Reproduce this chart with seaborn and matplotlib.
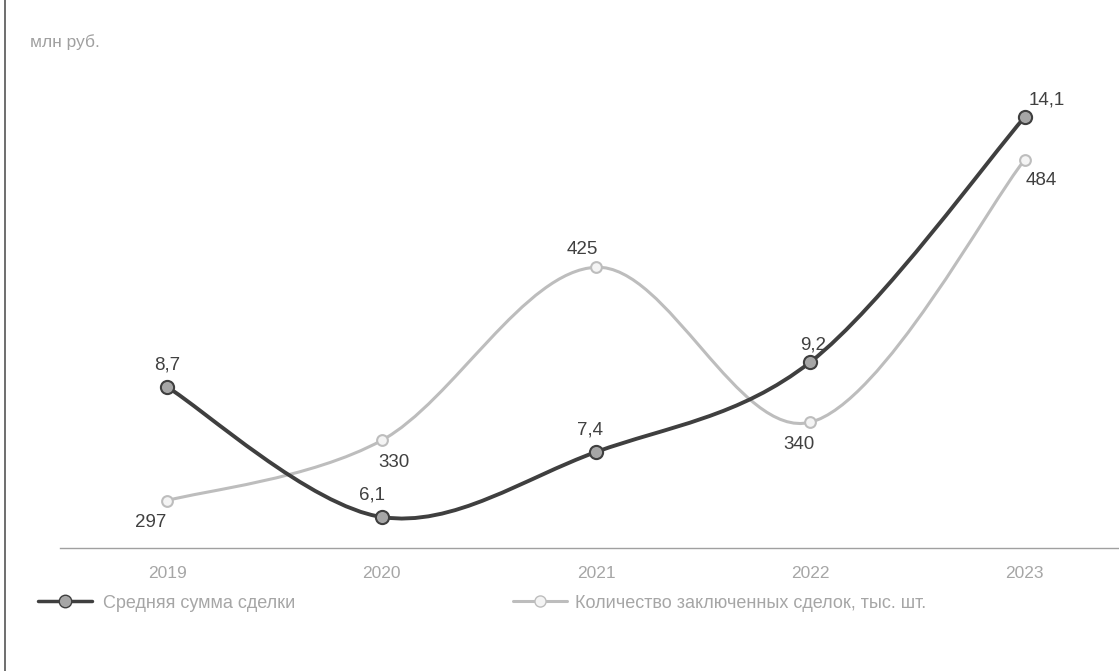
import numpy as np
import pandas as pd
import matplotlib
matplotlib.use("Agg")
import matplotlib.pyplot as plt
from matplotlib.path import Path
from matplotlib.patches import PathPatch
from matplotlib.lines import Line2D
import seaborn as sns

years = ["2019", "2020", "2021", "2022", "2023"]
avg_sum = [8.7, 6.1, 7.4, 9.2, 14.1]
deals = [297, 330, 425, 340, 484]
avg_labels = ["8,7", "6,1", "7,4", "9,2", "14,1"]
deal_labels = ["297", "330", "425", "340", "484"]
series_names = ["Средняя сумма сделки", "Количество заключенных сделок, тыс. шт."]
unit_label = "млн руб."

sns.set_theme(style="white")
plt.rcParams['font.family'] = ['Liberation Sans', 'DejaVu Sans']

W, H = 1119, 671
fig = plt.figure(figsize=(W / 100, H / 100), dpi=100)
fig.patch.set_facecolor("white")

left = 60 / W
right = 1132 / W
bottom = 1 - 548 / H
top = 1 - 60 / H
ax = fig.add_axes([left, bottom, right - left, top - bottom])
ax2 = ax.twinx()

x = np.arange(len(years))
df = pd.DataFrame({"x": x, "avg": avg_sum, "deals": deals})

dark = "#3f3f3f"
light = "#bdbdbd"


def smooth_path(xs, ys):
    pts = np.column_stack([xs, ys]).astype(float)
    n = len(pts)
    verts = [pts[0]]
    codes = [Path.MOVETO]
    for i in range(n - 1):
        p0 = pts[i - 1] if i > 0 else pts[i]
        p1 = pts[i]
        p2 = pts[i + 1]
        p3 = pts[i + 2] if i + 2 < n else pts[i + 1]
        c1 = p1 + (p2 - p0) / 6.0
        c2 = p2 - (p3 - p1) / 6.0
        verts += [c1, c2, p2]
        codes += [Path.CURVE4] * 3
    return Path(verts, codes)


ax2.add_patch(PathPatch(smooth_path(x, deals), fill=False, edgecolor=light, lw=2.2, zorder=2))
sns.scatterplot(data=df, x="x", y="deals", ax=ax2, s=60, color="#f4f4f4",
                edgecolor=light, linewidth=1.5, zorder=3, legend=False)

ax.add_patch(PathPatch(smooth_path(x, avg_sum), fill=False, edgecolor=dark, lw=2.8, zorder=4))
sns.scatterplot(data=df, x="x", y="avg", ax=ax, s=90, color="#a6a6a6",
                edgecolor=dark, linewidth=1.5, zorder=5, legend=False)

ax.set_zorder(ax2.get_zorder() + 1)
ax.patch.set_visible(False)

ax.set_xlim(-0.5, 4.5)
ax.set_ylim(5.48, 15.24)
ax2.set_ylim(271, 538.7)

label_color = "#404040"
avg_offsets = [(0, 10), (-7, 10), (-4, 10), (2, 6), (16, 6)]
for xi, v, lab, off in zip(x, avg_sum, avg_labels, avg_offsets):
    ax.annotate(lab, (xi, v), xytext=off, textcoords="offset points",
                ha="center", va="bottom", fontsize=13.5, color=label_color)

deal_offsets = [(-12, -10), (9, -10), (-10, 7), (-8, -10), (12, -9)]
deal_va = ["top", "top", "bottom", "top", "top"]
for xi, v, lab, off, va in zip(x, deals, deal_labels, deal_offsets, deal_va):
    ax2.annotate(lab, (xi, v), xytext=off, textcoords="offset points",
                 ha="center", va=va, fontsize=13.5, color=label_color)

for a in (ax, ax2):
    for s in a.spines.values():
        s.set_visible(False)
    a.set_ylabel("")
    a.set_xlabel("")
ax.set_yticks([])
ax2.set_yticks([])
ax.spines["bottom"].set_visible(True)
ax.spines["bottom"].set_color("#a0a0a0")
ax.spines["bottom"].set_linewidth(1.0)
ax.set_xticks(x)
ax.set_xticklabels(years, fontsize=12.5, color="#a6a6a6")
ax.tick_params(axis="x", length=0, pad=13)

fig.text(30 / W, 1 - 42 / H, unit_label, fontsize=12.5, color="#a0a0a0", va="center")

fig.add_artist(Line2D([5 / W, 5 / W], [0, 1], color="#555555", lw=1.2))

h1 = Line2D([0], [0], color=dark, lw=2.5, marker="o", markersize=9,
            markerfacecolor="#a6a6a6", markeredgecolor=dark)
h2 = Line2D([0], [0], color=light, lw=2.2, marker="o", markersize=8,
            markerfacecolor="#f4f4f4", markeredgecolor=light)
fig.legend([h1], [series_names[0]], loc="center left", bbox_to_anchor=(22 / W, 1 - 603 / H),
           frameon=False, fontsize=13, labelcolor="#a6a6a6",
           handlelength=3, handletextpad=0.6)
fig.legend([h2], [series_names[1]], loc="center left", bbox_to_anchor=(497 / W, 1 - 603 / H),
           frameon=False, fontsize=13, labelcolor="#a6a6a6",
           handlelength=3, handletextpad=0.4)

fig.savefig("out.png", dpi=100, facecolor="white")
